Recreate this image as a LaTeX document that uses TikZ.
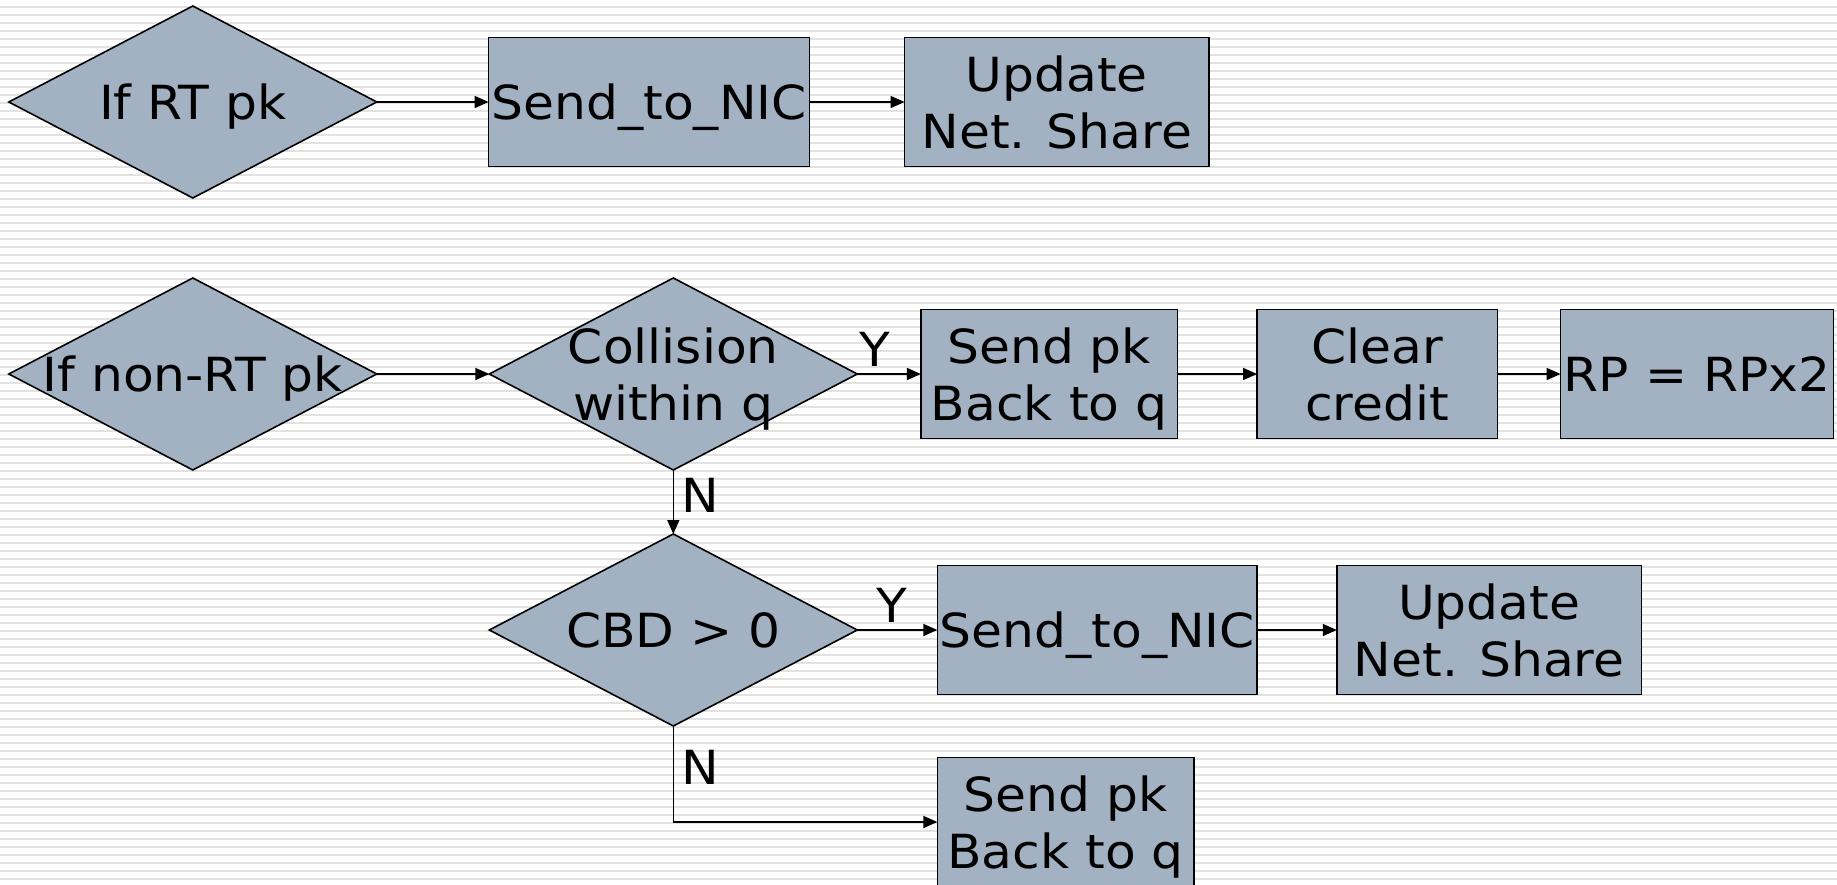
\documentclass[tikz,border=0pt]{standalone}
\usepackage{fontspec}
\setmainfont[FakeStretch=1.07]{DejaVu Sans}
\usetikzlibrary{shapes.geometric,arrows.meta}
\definecolor{boxfill}{RGB}{162,178,194}
\definecolor{stripe}{RGB}{226,226,226}
\begin{document}
\begin{tikzpicture}[x=1pt,y=-1pt,
  every node/.style={font=\fontsize{47}{57.5}\selectfont, align=center,
                     inner sep=0pt, outer sep=0pt, text depth=0pt},
  procbox/.style={draw=black, line width=1.6pt, fill=boxfill, minimum height=129pt},
  decision/.style={diamond, draw=black, line width=1.6pt, fill=boxfill,
                   minimum width=368pt, minimum height=192pt},
  flow/.style={line width=1.6pt, -{Triangle[length=14pt,width=12pt]}},
  ]
  % canvas and striped backdrop
  \useasboundingbox (0,0) rectangle (1837,885);
  \clip (0,0) rectangle (1837,885);
  \fill[white] (0,0) rectangle (1837,885);
  \foreach \k in {0,...,110}
    \draw[stripe, line width=2.2pt] (0,7+8*\k) -- (1837,7+8*\k);

  % real-time packet path
  \node[decision] (d1) at (192.8,102) {};
  \node (t1) at (d1.center) {If RT pk};
  \node[procbox, minimum width=321pt] (b1) at (649.1,102) {Send\_to\_NIC};
  \node[procbox, minimum width=304.5pt] (u1) at (1056.8,102) {Update\\Net. Share};

  % non-real-time packet path
  \node[decision] (d2) at (192.8,374) {};
  \node (t2) at (d2.center) {If non-RT pk};
  \node[decision] (col) at (673.3,374) {};
  \node (tcol) at (col.center) {Collision\\within q};
  \node[procbox, minimum width=256.6pt] (sp1) at (1049.2,374) {Send pk\\Back to q};
  \node[procbox, minimum width=240.2pt] (cc) at (1377.2,374) {Clear\\credit};
  \node[procbox, minimum width=273pt] (rp) at (1697.1,374) {RP = RPx2};

  \node[decision] (cbd) at (673.3,630) {};
  \node (tcbd) at (cbd.center) {CBD > 0};
  \node[procbox, minimum width=319.8pt] (sn2) at (1097.2,630) {Send\_to\_NIC};
  \node[procbox, minimum width=304.6pt] (u2) at (1489.1,630) {Update\\Net. Share};
  \node[procbox, minimum width=256.6pt] (sp2) at (1065.6,822) {Send pk\\Back to q};

  % connectors
  \draw[flow] (d1.east) -- (b1.west);
  \draw[flow] (b1.east) -- (u1.west);
  \draw[flow] (d2.east) -- (col.west);
  \draw[flow] (col.east) -- (sp1.west);
  \draw[flow] (sp1.east) -- (cc.west);
  \draw[flow] (cc.east) -- (rp.west);
  \draw[flow] (col.south) -- (cbd.north);
  \draw[flow] (cbd.east) -- (sn2.west);
  \draw[flow] (sn2.east) -- (u2.west);
  \draw[flow] (cbd.south) |- (sp2.west);

  % branch labels
  \node (y1) at (875,349) {Y};
  \node (n1) at (700.6,495.6) {N};
  \node (y2) at (891.6,605.7) {Y};
  \node (n2) at (700.6,767.4) {N};
\end{tikzpicture}
\end{document}
